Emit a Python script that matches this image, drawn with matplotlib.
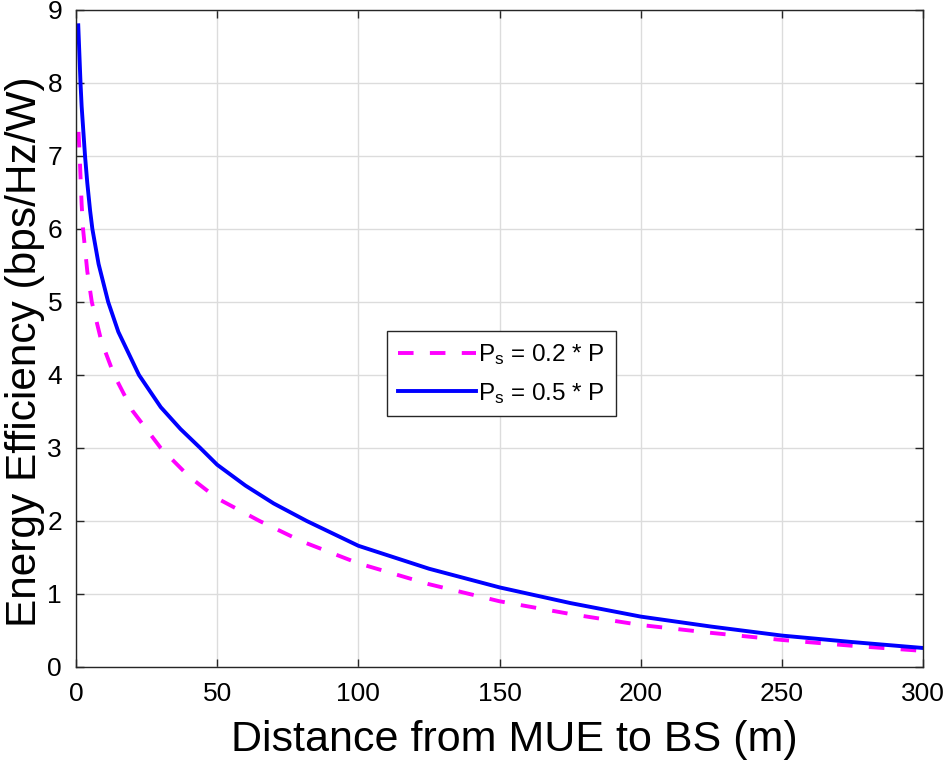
import numpy as np
import matplotlib
matplotlib.use('Agg')
from matplotlib import pyplot as plt

plt.rcParams['font.family'] = ['Liberation Sans', 'DejaVu Sans']
plt.rcParams['mathtext.fontset'] = 'custom'
plt.rcParams['mathtext.rm'] = 'Liberation Sans'
plt.rcParams['mathtext.it'] = 'Liberation Sans'

# values: distance (m) vs energy efficiency (bps/Hz/W)
dist_02 = [0.9, 1.3, 2, 2.5, 4, 5.6, 9, 13.5, 20, 30, 40, 50, 65, 80, 100,
           125, 150, 175, 200, 225, 250, 275, 300]
ee_02 = [7.33, 7.0, 6.34, 6.0, 5.42, 5.0, 4.46, 4.0, 3.51, 3.0, 2.61, 2.31,
         2.0, 1.72, 1.42, 1.134, 0.90, 0.726, 0.575, 0.467, 0.37, 0.29, 0.22]
dist_05 = [0.8, 1.6, 2, 3.2, 4, 5, 5.8, 8, 11.4, 15, 22.3, 30, 37, 44, 50,
           60, 70, 81.7, 100, 125, 150, 175, 200, 225, 250, 275, 300]
ee_05 = [8.79, 8.0, 7.68, 7.0, 6.63, 6.25, 6.0, 5.52, 5.0, 4.59, 4.0, 3.56,
         3.26, 3.0, 2.77, 2.485, 2.24, 2.0, 1.66, 1.346, 1.09, 0.876, 0.69,
         0.553, 0.43, 0.341, 0.26]
labels = [r'P$_\mathrm{s}$ = 0.2 * P', r'P$_\mathrm{s}$ = 0.5 * P']

fig = plt.figure(figsize=(9.44, 7.67), dpi=100)
ax = fig.add_axes([0.0805, 0.1304, 0.8975, 0.8566])

ax.plot(dist_02, ee_02, color='#ff00ff', lw=2.8, dashes=[4.0, 4.2], label=labels[0])
ax.plot(dist_05, ee_05, color='#0000ff', lw=2.8, label=labels[1])

ax.set_xlim(0, 300)
ax.set_ylim(0, 9)
ax.set_xticks(np.arange(0, 301, 50))
ax.set_yticks(np.arange(0, 10, 1))
ax.grid(True, color='#dcdcdc', lw=1)
ax.set_axisbelow(True)
ax.tick_params(direction='in', top=True, right=True, labelsize=19,
               length=6, width=1, color='#262626')
ax.tick_params(axis='x', pad=11)
ax.tick_params(axis='y', pad=10)
for s in ax.spines.values():
    s.set_color('#262626')
    s.set_linewidth(1)

ax.set_xlabel('Distance from MUE to BS (m)', fontsize=31)
ax.set_ylabel('Energy Efficiency (bps/Hz/W)', fontsize=30.5)
ax.xaxis.set_label_coords(0.517, -0.081)
ax.yaxis.set_label_coords(-0.036, 0.48)

leg = ax.legend(loc='center', bbox_to_anchor=(0.502, 0.446), fontsize=17.5,
                fancybox=False, framealpha=1, edgecolor='#262626',
                handlelength=3.2, handletextpad=0.1, borderpad=0.45,
                labelspacing=0.55, borderaxespad=0)
leg.get_frame().set_linewidth(1)

fig.savefig('out.png', dpi=100)
